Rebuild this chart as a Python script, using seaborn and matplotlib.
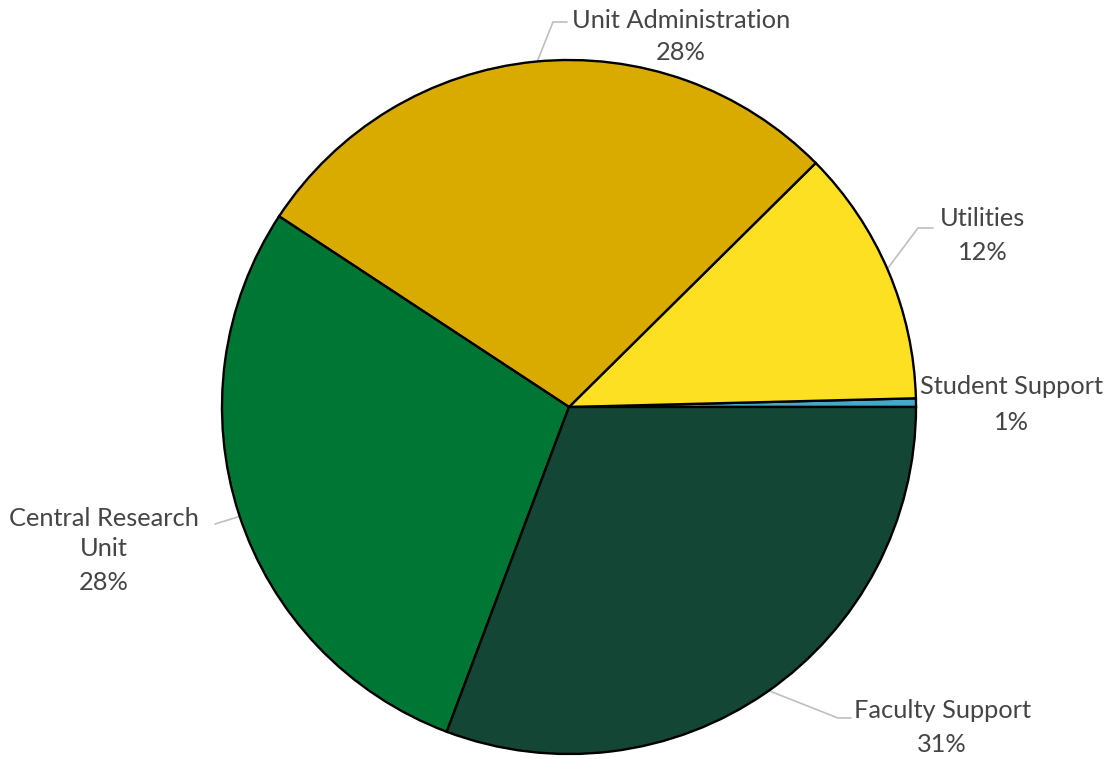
import matplotlib
matplotlib.use("Agg")
import matplotlib.pyplot as plt
import seaborn as sns

sns.set_theme(style="white")
plt.rcParams['font.family'] = ['Lato', 'DejaVu Sans']

categories = ["Student Support", "Utilities", "Unit Administration",
              "Central Research Unit", "Faculty Support"]
values = [0.4, 12.0, 28.3, 28.5, 30.7]
pct_labels = ["1%", "12%", "28%", "28%", "31%"]
colors = ["#44A9C9", "#FDE021", "#D9AA00", "#007635", "#134634"]

W, H = 1110, 759
fig = plt.figure(figsize=(W / 100, H / 100), dpi=100)
cx, cy, r = 569, 407, 347
ax = fig.add_axes([(cx - r) / W, (H - cy - r) / H, 2 * r / W, 2 * r / H])
ax.pie(values, colors=colors, startangle=0, counterclock=True, radius=1,
       wedgeprops=dict(edgecolor="black", linewidth=1.7))
ax.set_xlim(-1, 1)
ax.set_ylim(-1, 1)
ax.set_aspect("equal")
ax.axis("off")

def d(px, py):
    return ((px - cx) / r, (cy - py) / r)

txt_color = "#454545"
line_color = "#BFBFBF"
fs = 18.3

# label line positions (pixel centers)
label_lines = [
    [("Student Support", 1011, 387), ("1%", 1011, 422)],
    [("Utilities", 983, 218), ("12%", 983, 253)],
    [("Unit Administration", 681, 20), ("28%", 681, 53)],
    [("Central Research", 104, 518), ("Unit", 104, 549), ("28%", 104, 583)],
    [("Faculty Support", 942, 711), ("31%", 942, 745)],
]
for lines in label_lines:
    for s, px, py in lines:
        ax.text(*d(px, py), s, ha="center", va="center", fontsize=fs,
                color=txt_color, clip_on=False)

leaders = [
    [(537, 62), (553, 22), (567, 22)],
    [(888, 268), (918, 228), (933, 228)],
    [(241, 516), (215, 524)],
    [(767, 690), (838, 718), (851, 718)],
]
for pts in leaders:
    xs, ys = zip(*[d(*p) for p in pts])
    ax.plot(xs, ys, color=line_color, lw=1.2, clip_on=False, zorder=0.5)

fig.savefig("out.png", dpi=100, facecolor="white")
